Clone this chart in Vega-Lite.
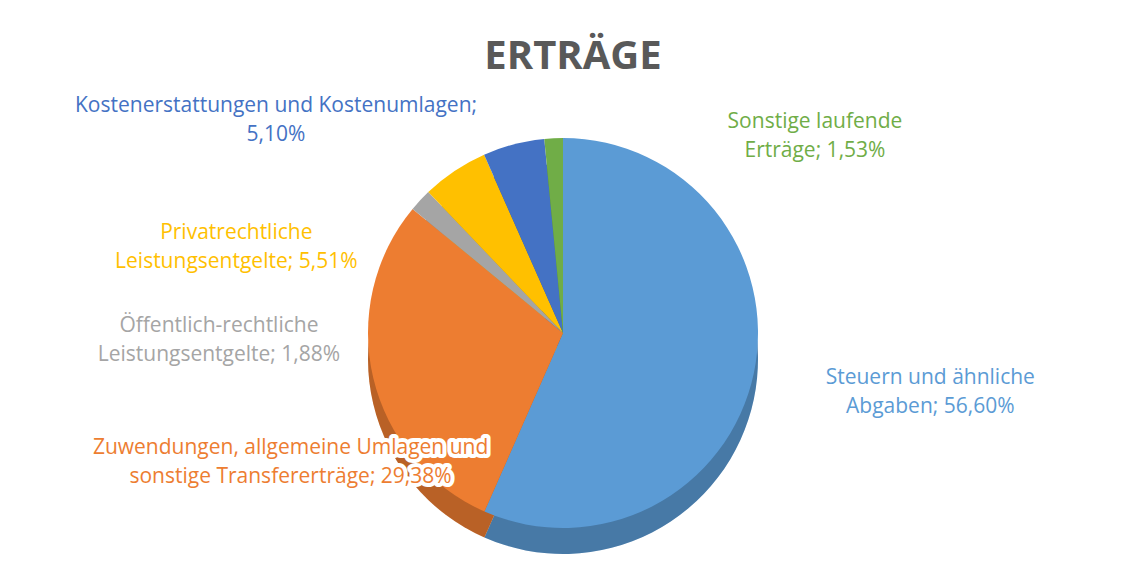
{
  "$schema": "https://vega.github.io/schema/vega-lite/v6.json",
  "width": 1126,
  "height": 466,
  "autosize": {"type": "none"},
  "padding": {"top": 100, "left": 0, "right": 2, "bottom": 1},
  "background": "white",
  "title": {"text": "ERTRÄGE", "font": "Open Sans", "fontSize": 40, "fontWeight": "bold", "color": "#595959", "frame": "group", "offset": 9, "anchor": "middle", "dx": 10},
  "config": {"view": {"stroke": null}},
  "data": {"values": [
    {"key": "steuern", "name": "Steuern und ähnliche Abgaben", "share": 56.60, "order": 1, "label": "Steuern  und ähnliche\nAbgaben; 56,60%"},
    {"key": "zuw", "name": "Zuwendungen, allgemeine Umlagen und sonstige Transfererträge", "share": 29.38, "order": 2, "label": "Zuwendungen,  allgemeine Umlagen und\nsonstige Transfererträge; 29,38%"},
    {"key": "oeff", "name": "Öffentlich-rechtliche Leistungsentgelte", "share": 1.88, "order": 3, "label": "Öffentlich-rechtliche\nLeistungsentgelte; 1,88%"},
    {"key": "priv", "name": "Privatrechtliche Leistungsentgelte", "share": 5.51, "order": 4, "label": "Privatrechtliche\nLeistungsentgelte; 5,51%"},
    {"key": "kost", "name": "Kostenerstattungen und Kostenumlagen", "share": 5.10, "order": 5, "label": "Kostenerstattungen und Kostenumlagen;\n5,10%"},
    {"key": "sonst", "name": "Sonstige laufende Erträge", "share": 1.53, "order": 6, "label": "Sonstige laufende\nErträge; 1,53%"}
  ]},
  "encoding": {
    "theta": {"field": "share", "type": "quantitative", "stack": true},
    "order": {"field": "order", "type": "quantitative"},
    "color": {
      "field": "name", "type": "nominal", "legend": null,
      "scale": {
        "domain": ["Steuern und ähnliche Abgaben", "Zuwendungen, allgemeine Umlagen und sonstige Transfererträge", "Öffentlich-rechtliche Leistungsentgelte", "Privatrechtliche Leistungsentgelte", "Kostenerstattungen und Kostenumlagen", "Sonstige laufende Erträge"],
        "range": ["#5B9BD5", "#ED7D31", "#A5A5A5", "#FFC000", "#4472C4", "#70AD47"]
      }
    }
  },
  "layer": [
    {"mark": {"type": "arc", "outerRadius": 195, "yOffset": 26}},
    {"mark": {"type": "arc", "outerRadius": 195, "yOffset": 26, "opacity": 0.22}, "encoding": {"color": {"value": "#000000"}}},
    {"mark": {"type": "arc", "outerRadius": 195}},
    {
      "encoding": {"text": {"field": "label", "type": "nominal", "condition": {"test": "datum.key !== 'steuern'", "value": ""}}},
      "layer": [
        {"mark": {"type": "text", "radius": 220, "dx": 152, "dy": 0, "font": "Open Sans", "fontSize": 21, "lineBreak": "\n", "lineHeight": 29}}
      ]
    },
    {
      "encoding": {"text": {"field": "label", "type": "nominal", "condition": {"test": "datum.key !== 'zuw'", "value": ""}}},
      "layer": [
        {"mark": {"type": "text", "radius": 280, "dx": 0, "dy": 50, "font": "Open Sans", "fontSize": 21, "lineBreak": "\n", "lineHeight": 29, "stroke": "white", "strokeWidth": 8, "strokeJoin": "round"}, "encoding": {"color": {"value": "white"}}},
        {"mark": {"type": "text", "radius": 280, "dx": 0, "dy": 50, "font": "Open Sans", "fontSize": 21, "lineBreak": "\n", "lineHeight": 29}}
      ]
    },
    {
      "encoding": {"text": {"field": "label", "type": "nominal", "condition": {"test": "datum.key !== 'oeff'", "value": ""}}},
      "layer": [
        {"mark": {"type": "text", "radius": 280, "dx": -139, "dy": 184, "font": "Open Sans", "fontSize": 21, "lineBreak": "\n", "lineHeight": 29}}
      ]
    },
    {
      "encoding": {"text": {"field": "label", "type": "nominal", "condition": {"test": "datum.key !== 'priv'", "value": ""}}},
      "layer": [
        {"mark": {"type": "text", "radius": 280, "dx": -171, "dy": 133, "font": "Open Sans", "fontSize": 21, "lineBreak": "\n", "lineHeight": 29}}
      ]
    },
    {
      "encoding": {"text": {"field": "label", "type": "nominal", "condition": {"test": "datum.key !== 'kost'", "value": ""}}},
      "layer": [
        {"mark": {"type": "text", "radius": 280, "dx": -216, "dy": 44, "font": "Open Sans", "fontSize": 21, "lineBreak": "\n", "lineHeight": 29}}
      ]
    },
    {
      "encoding": {"text": {"field": "label", "type": "nominal", "condition": {"test": "datum.key !== 'sonst'", "value": ""}}},
      "layer": [
        {"mark": {"type": "text", "radius": 230, "dx": 263, "dy": 19, "font": "Open Sans", "fontSize": 21, "lineBreak": "\n", "lineHeight": 29}}
      ]
    }
  ]
}
